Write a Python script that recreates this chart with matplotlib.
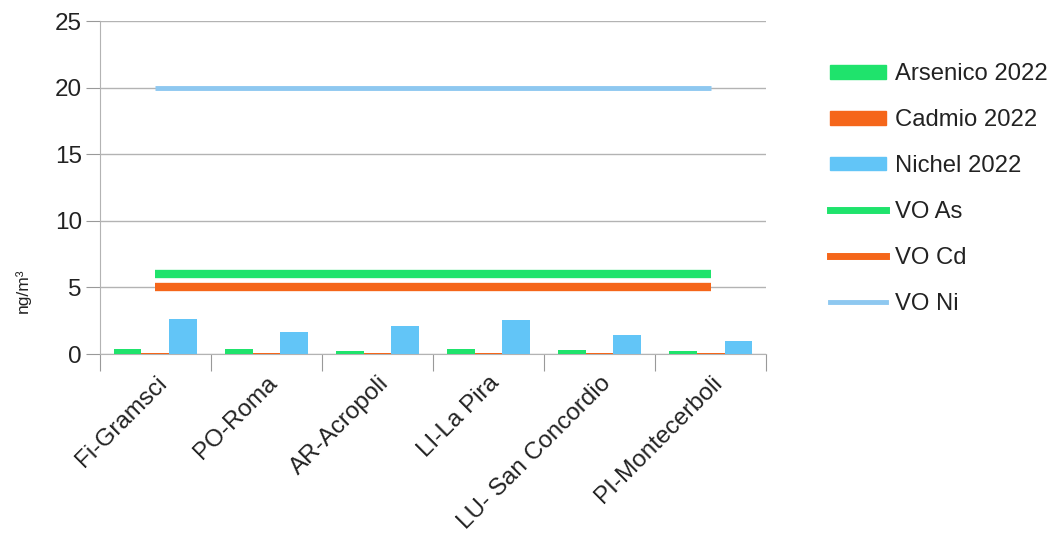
import matplotlib.pyplot as plt
import numpy as np
from matplotlib.patches import Patch
from matplotlib.lines import Line2D

plt.rcParams['font.family'] = ['Liberation Sans', 'DejaVu Sans']

stations = ["Fi-Gramsci", "PO-Roma", "AR-Acropoli", "LI-La Pira",
            "LU- San Concordio", "PI-Montecerboli"]
arsenico = [0.38, 0.35, 0.25, 0.35, 0.32, 0.22]
cadmio = [0.08, 0.07, 0.07, 0.07, 0.08, 0.07]
nichel = [2.6, 1.65, 2.1, 2.55, 1.43, 1.0]
vo_as = [6, 6, 6, 6, 6, 6]
vo_cd = [5, 5, 5, 5, 5, 5]
vo_ni = [20, 20, 20, 20, 20, 20]

c_as = "#1fe36c"
c_cd = "#f5661a"
c_ni = "#62c5f7"
c_vo_ni = "#8ec8f0"

fig = plt.figure(figsize=(10.51, 5.54), dpi=100)
ax = fig.add_axes([0.095, 0.361, 0.634, 0.601])

x = np.arange(len(stations))
w = 0.25
ax.bar(x - w, arsenico, w, color=c_as, zorder=3)
ax.bar(x, cadmio, w, color=c_cd, zorder=3)
ax.bar(x + w, nichel, w, color=c_ni, zorder=3)

ax.plot(x, vo_as, color=c_as, lw=6, solid_capstyle='butt', zorder=4)
ax.plot(x, vo_cd, color=c_cd, lw=6, solid_capstyle='butt', zorder=4)
ax.plot(x, vo_ni, color=c_vo_ni, lw=3.5, solid_capstyle='butt', zorder=4)

ax.set_xlim(-0.5, len(stations) - 0.5)
ax.set_ylim(0, 25)
ax.set_yticks(range(0, 26, 5))
ax.yaxis.grid(True, color="#b3b3b3", lw=1)
ax.set_axisbelow(True)
for s in ["top", "right"]:
    ax.spines[s].set_visible(False)
ax.spines["left"].set_color("#b3b3b3")
ax.spines["bottom"].set_color("#b3b3b3")

ax.set_xticks(np.arange(-0.5, len(stations), 1))
ax.set_xticklabels([])
ax.set_xticks(x, minor=True)
ax.set_xticklabels(stations, minor=True, rotation=45, ha='right',
                   rotation_mode='anchor', fontsize=17.5, color="#222222")
ax.tick_params(axis='x', which='major', length=12, color="#999999")
ax.tick_params(axis='x', which='minor', length=0, pad=13)
ax.tick_params(axis='y', length=10, color="#999999", labelsize=17.5,
               labelcolor="#222222", pad=3)
ax.set_ylabel("ng/m³", fontsize=12.5, color="#222222")
ax.yaxis.set_label_coords(-0.103, 0.19)

handles = [Patch(color=c_as), Patch(color=c_cd), Patch(color=c_ni),
           Line2D([], [], color=c_as, lw=5),
           Line2D([], [], color=c_cd, lw=5),
           Line2D([], [], color=c_vo_ni, lw=3.5)]
labels = ["Arsenico 2022", "Cadmio 2022", "Nichel 2022", "VO As", "VO Cd", "VO Ni"]
leg = fig.legend(handles, labels, loc='upper left', bbox_to_anchor=(0.781, 0.903),
                 frameon=False, fontsize=17.2, handlelength=2.33, handleheight=0.5,
                 handletextpad=0.38, labelspacing=1.0, borderaxespad=0)
for t in leg.get_texts():
    t.set_color("#222222")

fig.savefig("out.png", dpi=100)
